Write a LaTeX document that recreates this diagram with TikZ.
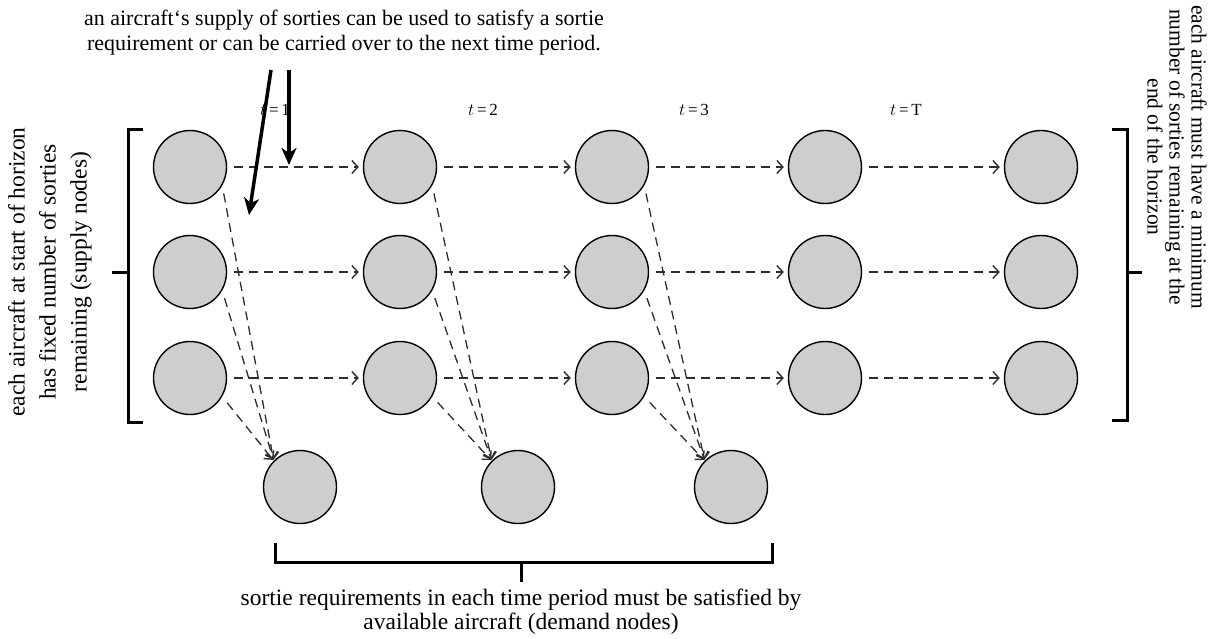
\documentclass[tikz,border=0pt]{standalone}
\usepackage{fontspec}
\setmainfont{Liberation Serif}
\usetikzlibrary{arrows.meta}
\definecolor{ballgray}{RGB}{206,206,206}
\definecolor{darkline}{RGB}{45,45,45}
\begin{document}
\begin{tikzpicture}[x=1pt,y=-1pt,
  ball/.style={circle, draw=black, line width=1.4pt, minimum size=73pt, inner sep=0pt, fill=ballgray},
  flow/.style={draw=darkline, line width=1.3pt, dash pattern=on 9pt off 6pt, -{Straight Barb[length=6pt,width=13pt,line width=1.4pt]}},
  brk/.style={line width=3pt},
  big/.style={line width=3.5pt, -{Stealth[length=17pt,width=15pt,inset=5pt]}},
  lbl/.style={align=center, inner sep=0pt},
  tl/.style={font=\rmfamily\fontsize{17}{19}\selectfont, inner sep=0pt}]
\useasboundingbox (0,0) rectangle (1218,639);

% supply and carry-over nodes
\foreach \j/\x in {1/190,2/400,3/612,4/825,5/1041}
  \foreach \i/\y in {1/167,2/272,3/378}
    \node[ball] (s\i\j) at (\x,\y) {};

% demand nodes
\node[ball] (d1) at (300,487) {};
\node[ball] (d2) at (518,487) {};
\node[ball] (d3) at (731,487) {};

% carry-over arrows
\foreach \i in {1,2,3}
  \foreach \j/\k in {1/2,2/3,3/4,4/5}
    \draw[flow, shorten <=7pt, shorten >=4pt] (s\i\j) -- (s\i\k);

% supply to demand arrows
\foreach \j in {1,2,3}
  \foreach \i in {1,2,3}
    \draw[flow, shorten <=8pt, shorten >=1pt] (s\i\j.-30) -- (d\j.135);

% period labels
\node[tl] (t1) at (275,110) {$t$\,=\,1};
\node[tl] (t2) at (483,110) {$t$\,=\,2};
\node[tl] (t3) at (694,110) {$t$\,=\,3};
\node[tl] (tT) at (906,110) {$t$\,=\,T};

% top annotation
\node[lbl, font=\rmfamily\fontsize{22}{25}\selectfont] (top) at (344,33) {an aircraft`s supply of sorties can be used to satisfy a sortie\\requirement or can be carried over to the next time period.};
\coordinate (a1s) at (289,70);
\coordinate (a1e) at (289,165);
\coordinate (a2s) at (271,70);
\coordinate (a2e) at (249,215);
\draw[big] (a1s) -- (a1e);
\draw[big] (a2s) -- (a2e);

% left bracket and text
\draw[brk] (143,130) -- (128,130) -- (128,422) -- (143,422);
\draw[brk] (128,272) -- (112,272);
\node[lbl, rotate=90, font=\rmfamily\fontsize{23.5}{31}\selectfont] (ltext) at (50,272) {each aircraft at start of horizon\\has fixed number of sorties\\remaining (supply nodes)};

% right bracket and text
\draw[brk] (1112,130) -- (1127,130) -- (1127,420) -- (1112,420);
\draw[brk] (1127,272) -- (1142,272);
\node[lbl, rotate=-90, font=\rmfamily\fontsize{21.5}{22}\selectfont] (rtext) at (1177,157) {each aircraft must have a minimum\\number of sorties remaining at the\\end of the horizon};

% bottom bracket and text
\draw[brk] (275,543) -- (275,562) -- (772,562) -- (772,543);
\draw[brk] (521,562) -- (521,582);
\node[lbl, font=\rmfamily\fontsize{23.5}{24}\selectfont] (btext) at (521,612) {sortie requirements in each time period must be satisfied by\\available aircraft (demand nodes)};
\end{tikzpicture}
\end{document}
